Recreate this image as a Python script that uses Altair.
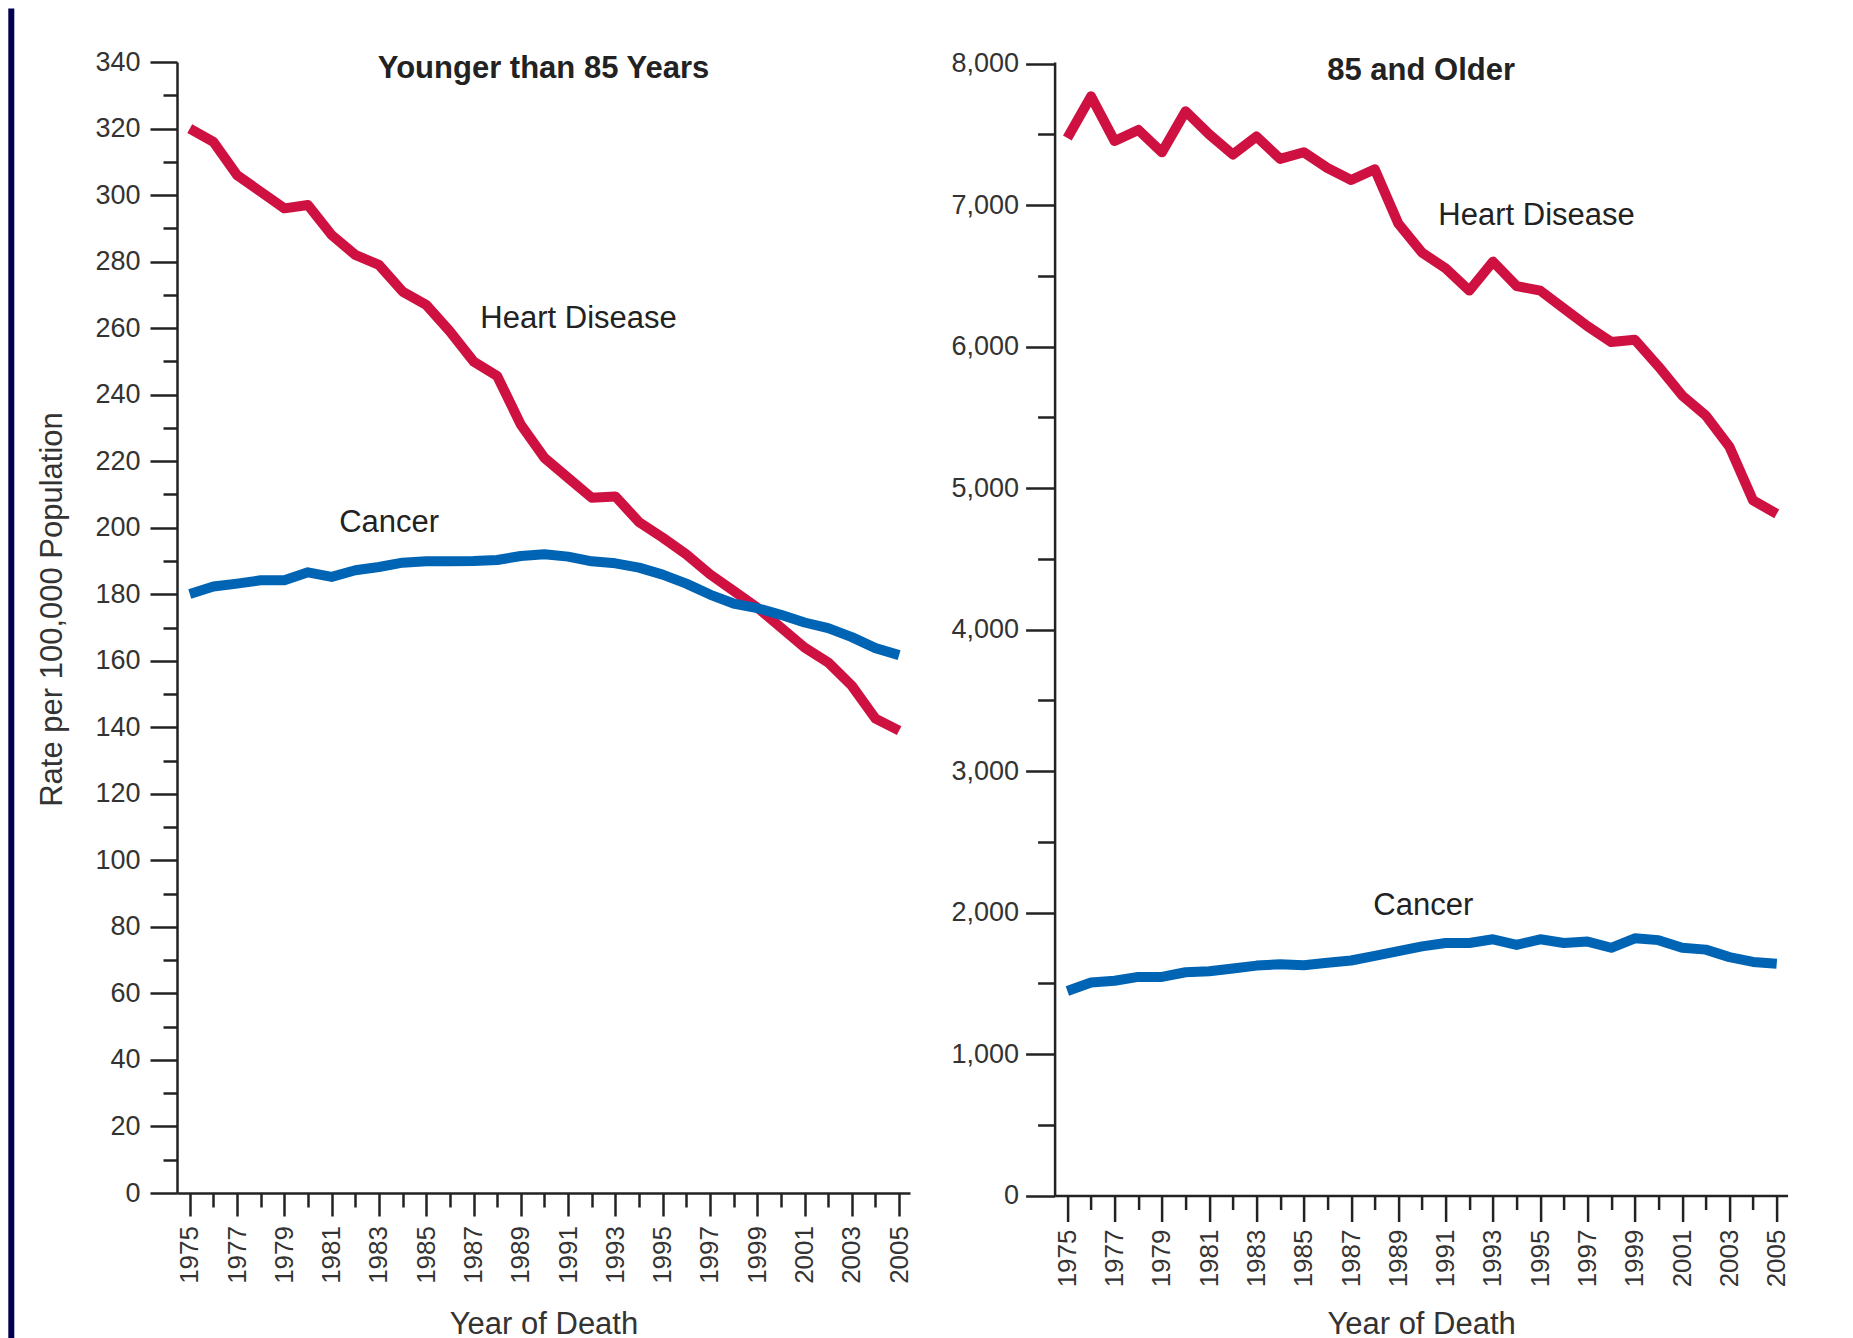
import altair as alt
import pandas as pd

# ---------------- data ----------------
years = list(range(1975, 2006))

young_heart = [320, 316, 306, 301, 296, 297, 288, 282, 279, 271, 267, 259, 250, 245.6, 231,
               221, 215, 209, 209.4, 201.7, 197, 192, 186, 181, 176, 170, 164, 159.5, 152.5,
               142.6, 139]
young_cancer = [180.1, 182.3, 183.2, 184.2, 184.2, 186.6, 185.2, 187.2, 188.2, 189.5, 189.9,
                189.9, 190, 190.3, 191.5, 192, 191.3, 189.9, 189.3, 188, 185.9, 183.2, 179.9,
                177.2, 175.8, 173.8, 171.5, 169.8, 167.1, 163.8, 161.7]
old_heart = [7475, 7769, 7453, 7532, 7374, 7664, 7500, 7358, 7485, 7327, 7374, 7263, 7178,
             7254, 6869, 6664, 6553, 6396, 6601, 6428, 6396, 6270, 6144, 6033, 6049, 5860,
             5655, 5513, 5292, 4913, 4818]
old_cancer = [1445, 1505, 1518, 1545, 1545, 1578, 1585, 1605, 1625, 1635, 1628, 1645, 1661,
              1694, 1728, 1761, 1785, 1785, 1811, 1771, 1811, 1785, 1795, 1751, 1818, 1805,
              1751, 1738, 1685, 1651, 1638]

panel_titles = ["Younger than 85 Years", "85 and Older"]
series_names = ["Heart Disease", "Cancer"]
series_colors = ["#CE1141", "#0064B4"]
y_title = "Rate per 100,000 Population"
x_title = "Year of Death"

# annotation anchor points (year, rate) for the series labels
young_label_years = [1987.29, 1981.32]
young_label_rates = [259.9, 198.6]
old_label_years = [1990.69, 1987.94]
old_label_rates = [6860, 1986]
title_year = 1989.96
young_title_rate = 335.3
old_title_rate = 7888

FONT = "Liberation Sans"
X_DOMAIN = [1974.46, 2005.46]
W = 733
INK = "#222222"
LABEL = "#333333"


def make_panel(heart, cancer, title, title_rate, label_years, label_rates,
               ymax, ytop, minor_step, major_step, fmt, height,
               y_major, y_minor, y_pad, x_major, x_pad, x_title_y, show_y_title, navy):
    df = pd.DataFrame({
        "year": years * 2,
        "rate": heart + cancer,
        "series": [series_names[0]] * len(years) + [series_names[1]] * len(years),
    })
    xscale = alt.Scale(domain=X_DOMAIN, nice=False, zero=False)
    yscale = alt.Scale(domain=[0, ytop], nice=False, zero=True)

    x_axis = alt.Axis(
        values=years, format="d",
        tickSize={"condition": {"test": "datum.value % 2 == 1", "value": x_major}, "value": 14},
        labelExpr="datum.value % 2 == 1 ? datum.label : ''",
        labelAngle=270, labelPadding=x_pad, labelOverlap=False, labelFlush=False,
        labelFont=FONT, labelFontSize=26, labelColor=LABEL,
        domainColor=INK, domainWidth=2.5, tickColor=INK, tickWidth=2.5, grid=False,
        title=x_title, titleFont=FONT, titleFontSize=31, titleFontWeight="normal",
        titleColor=LABEL, titleX=W / 2, titleY=x_title_y, titleAlign="center",
        titleBaseline="alphabetic",
    )
    yvals = list(range(0, ymax + 1, minor_step))
    y_axis_kw = dict(
        values=yvals, format=fmt,
        tickSize={"condition": {"test": f"datum.value % {major_step} == 0", "value": y_major},
                  "value": y_minor},
        labelExpr=f"datum.value % {major_step} == 0 ? datum.label : ''",
        labelPadding=y_pad, labelOverlap=False, labelFlush=False,
        labelFont=FONT, labelFontSize=27, labelColor=LABEL,
        domainColor=INK, domainWidth=2.5, tickColor=INK, tickWidth=2.5, grid=False,
    )
    if show_y_title:
        y_axis = alt.Axis(
            title=y_title, titleFont=FONT, titleFontSize=31, titleFontWeight="normal",
            titleColor=LABEL, titleAngle=270, titleX=-124.7, titleY=547,
            titleAlign="center", titleBaseline="middle", **y_axis_kw)
    else:
        y_axis = alt.Axis(title=None, **y_axis_kw)

    enc_x = alt.X("year:Q", scale=xscale, axis=x_axis)
    enc_y = alt.Y("rate:Q", scale=yscale, axis=y_axis)

    lines = alt.Chart(df).mark_line(strokeWidth=10, strokeJoin="round").encode(
        x=enc_x, y=enc_y,
        color=alt.Color("series:N", scale=alt.Scale(domain=series_names, range=series_colors),
                        legend=None),
    )

    ann_df = pd.DataFrame({"year": label_years, "rate": label_rates, "label": series_names})
    ann = alt.Chart(ann_df).mark_text(
        align="left", baseline="alphabetic", font=FONT, fontSize=31, color=INK
    ).encode(x=enc_x, y=enc_y, text="label:N")

    t_df = pd.DataFrame({"year": [title_year], "rate": [title_rate], "label": [title]})
    ttl = alt.Chart(t_df).mark_text(
        align="center", baseline="alphabetic", font=FONT, fontSize=31,
        fontWeight="bold", color=INK
    ).encode(x=enc_x, y=enc_y, text="label:N")

    layers = [lines, ann, ttl]
    if navy:
        strip = alt.Chart(pd.DataFrame({"k": [0]})).mark_rect(color="#020050").encode(
            x=alt.value(-168.7), x2=alt.value(-162.7),
            y=alt.value(-53.5), y2=alt.value(1290),
        )
        layers = layers + [strip]
    return alt.layer(*layers).properties(width=W, height=height)


left = make_panel(young_heart, young_cancer, panel_titles[0], young_title_rate,
                  young_label_years, young_label_rates,
                  ymax=340, ytop=340, minor_step=10, major_step=20, fmt="d", height=1131,
                  y_major=27, y_minor=14, y_pad=10, x_major=23, x_pad=9.5,
                  x_title_y=140.5, show_y_title=True, navy=True)
right = make_panel(old_heart, old_cancer, panel_titles[1], old_title_rate,
                   old_label_years, old_label_rates,
                   ymax=8000, ytop=8012, minor_step=500, major_step=1000, fmt=",d", height=1133.5,
                   y_major=29, y_minor=17, y_pad=7, x_major=26, x_pad=7.5,
                   x_title_y=138, show_y_title=False, navy=False)

chart = alt.hconcat(left, right, spacing=144.6, bounds="flush").properties(
    padding={"left": 0, "top": 0, "right": 0, "bottom": 0},
    background="white",
).configure_view(stroke=None)

chart.save("out.html", embed_options={"renderer": "svg", "actions": False})
